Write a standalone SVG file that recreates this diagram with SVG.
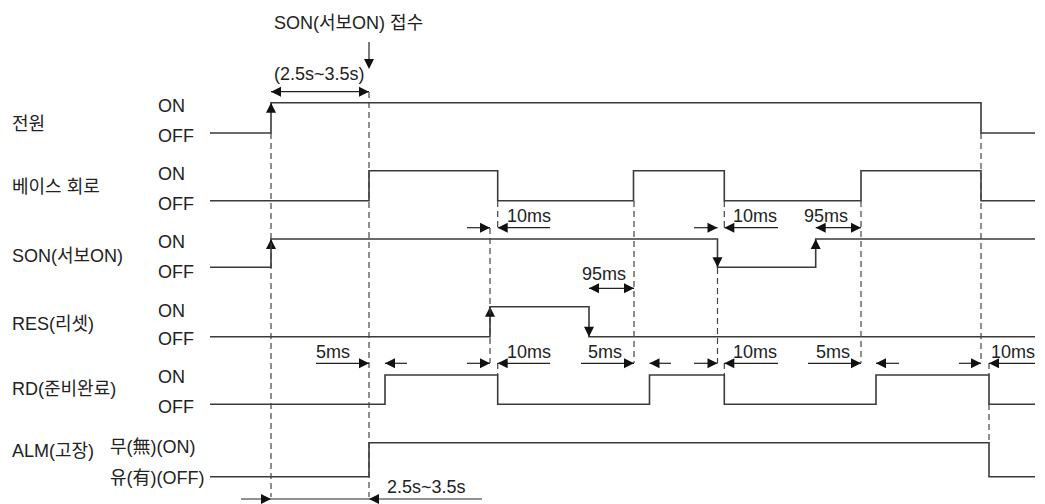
<svg xmlns="http://www.w3.org/2000/svg" xmlns:xlink="http://www.w3.org/1999/xlink" width="1045" height="504" viewBox="0 0 1045 504">
<style>
text{font-family:"Liberation Sans","Noto Sans CJK KR",sans-serif;font-size:18px;fill:#222}
.sig{fill:none;stroke:#3a3a3a;stroke-width:1.6}
.dash{fill:none;stroke:#444;stroke-width:1.2;stroke-dasharray:6 4}
.dim{fill:none;stroke:#222;stroke-width:1.2}
.ah{fill:#111}
</style>
<defs>
<path id="ar" class="ah" d="M0,0 L-10,-5 L-10,5 Z"/>
<path id="al" class="ah" d="M0,0 L10,-5 L10,5 Z"/>
<path id="au" class="ah" d="M0,0 L-5,10 L5,10 Z"/>
<path id="ad" class="ah" d="M0,0 L-5,-10 L5,-10 Z"/>
</defs>
<rect width="1045" height="504" fill="#fff"/>

<g id="header">
<text x="274" y="29">SON(서보ON) 접수</text>
<text x="274" y="80">(2.5s~3.5s)</text>
</g>

<g id="power">
<text x="12" y="130">전원</text>
<text x="158" y="112">ON</text>
<text x="158" y="142">OFF</text>
<path class="sig" d="M210,133 H271 V102.7 H981 V133 H1035"/>
<use xlink:href="#au" x="271" y="102.7"/>
</g>

<g id="base">
<text x="12" y="193">베이스 회로</text>
<text x="158" y="180">ON</text>
<text x="158" y="210">OFF</text>
<path class="sig" d="M210,200.7 H369 V170.7 H497.7 V200.7 H633.5 V170.7 H724.3 V200.7 H861 V170.7 H981 V200.7 H1035"/>
</g>

<g id="son">
<text x="12" y="262">SON(서보ON)</text>
<text x="158" y="248">ON</text>
<text x="158" y="278">OFF</text>
<path class="sig" d="M210,267.3 H271 V239 H717.5 V267.3 H815.7 V239 H1035"/>
<use xlink:href="#au" x="271" y="239"/>
<use xlink:href="#ad" x="717.5" y="267.3"/>
<use xlink:href="#au" x="815.7" y="239"/>
</g>

<g id="res">
<text x="12" y="330">RES(리셋)</text>
<text x="158" y="317">ON</text>
<text x="158" y="345">OFF</text>
<path class="sig" d="M210,336.7 H490 V306.7 H589 V336.7 H1035"/>
<use xlink:href="#au" x="490" y="306.7"/>
<use xlink:href="#ad" x="589" y="336.7"/>
</g>

<g id="rd">
<text x="12" y="395">RD(준비완료)</text>
<text x="158" y="383">ON</text>
<text x="158" y="413">OFF</text>
<path class="sig" d="M210,404.3 H385 V375 H497.7 V404.3 H649.5 V375 H724.3 V404.3 H876 V375 H989 V404.3 H1035"/>
</g>

<g id="alm">
<text x="12" y="457">ALM(고장)</text>
<text x="110" y="453">무(無)(ON)</text>
<text x="110" y="484">유(有)(OFF)</text>
<path class="sig" d="M210,476.7 H369 V442.7 H989 V476.7 H1035"/>
</g>

<g id="connectors">
<path class="dash" d="M271,133 V497 M369,92 V497 M490,228 V363 M497.7,201 V228 M497.7,363 V375 M634,201 V363 M717.5,268 V363 M724.3,201 V228 M724.3,363 V375 M861,201 V363 M981,133 V363 M989,363 V375 M989,404 V442"/>
<line class="dim" x1="369" y1="42" x2="369" y2="62"/>
<use xlink:href="#ad" x="369" y="69"/>
<line class="dim" x1="271" y1="91.7" x2="369" y2="91.7"/>
<use xlink:href="#al" x="271" y="91.7"/>
<use xlink:href="#ar" x="369" y="91.7"/>
<text x="507" y="222">10ms</text>
<line class="dim" x1="467" y1="227.7" x2="490" y2="227.7"/>
<use xlink:href="#ar" x="490" y="227.7"/>
<line class="dim" x1="497.7" y1="227.7" x2="550" y2="227.7"/>
<use xlink:href="#al" x="497.7" y="227.7"/>
<text x="733" y="222">10ms</text>
<line class="dim" x1="694" y1="227.7" x2="717.5" y2="227.7"/>
<use xlink:href="#ar" x="717.5" y="227.7"/>
<line class="dim" x1="724.3" y1="227.7" x2="778" y2="227.7"/>
<use xlink:href="#al" x="724.3" y="227.7"/>
<text x="804" y="222">95ms</text>
<line class="dim" x1="815.7" y1="227.7" x2="861" y2="227.7"/>
<use xlink:href="#al" x="815.7" y="227.7"/>
<use xlink:href="#ar" x="861" y="227.7"/>
<text x="582" y="280">95ms</text>
<line class="dim" x1="589" y1="288.3" x2="634" y2="288.3"/>
<use xlink:href="#al" x="589" y="288.3"/>
<use xlink:href="#ar" x="634" y="288.3"/>
<text x="316" y="358">5ms</text>
<line class="dim" x1="316" y1="363.3" x2="369" y2="363.3"/>
<use xlink:href="#ar" x="369" y="363.3"/>
<line class="dim" x1="385" y1="363.3" x2="407" y2="363.3"/>
<use xlink:href="#al" x="385" y="363.3"/>
<text x="507" y="358">10ms</text>
<line class="dim" x1="467" y1="363.3" x2="490" y2="363.3"/>
<use xlink:href="#ar" x="490" y="363.3"/>
<line class="dim" x1="497.7" y1="363.3" x2="550" y2="363.3"/>
<use xlink:href="#al" x="497.7" y="363.3"/>
<text x="588" y="358">5ms</text>
<line class="dim" x1="581" y1="363.3" x2="634" y2="363.3"/>
<use xlink:href="#ar" x="634" y="363.3"/>
<line class="dim" x1="649.5" y1="363.3" x2="671" y2="363.3"/>
<use xlink:href="#al" x="649.5" y="363.3"/>
<text x="733" y="358">10ms</text>
<line class="dim" x1="694" y1="363.3" x2="717.5" y2="363.3"/>
<use xlink:href="#ar" x="717.5" y="363.3"/>
<line class="dim" x1="724.3" y1="363.3" x2="778" y2="363.3"/>
<use xlink:href="#al" x="724.3" y="363.3"/>
<text x="816" y="358">5ms</text>
<line class="dim" x1="808" y1="363.3" x2="861" y2="363.3"/>
<use xlink:href="#ar" x="861" y="363.3"/>
<line class="dim" x1="876" y1="363.3" x2="899" y2="363.3"/>
<use xlink:href="#al" x="876" y="363.3"/>
<text x="991" y="358">10ms</text>
<line class="dim" x1="959" y1="363.3" x2="981" y2="363.3"/>
<use xlink:href="#ar" x="981" y="363.3"/>
<line class="dim" x1="989" y1="363.3" x2="1035" y2="363.3"/>
<use xlink:href="#al" x="989" y="363.3"/>
<text x="387" y="493">2.5s~3.5s</text>
<line class="dim" x1="241" y1="499" x2="482" y2="499"/>
<use xlink:href="#ar" x="271" y="499"/>
<use xlink:href="#al" x="369" y="499"/>
</g>
</svg>
